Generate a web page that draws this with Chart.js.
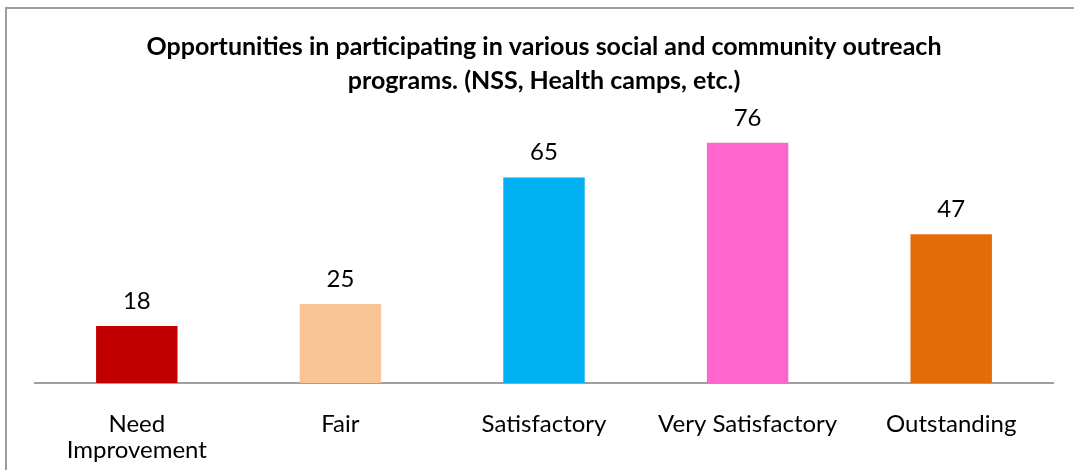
<!DOCTYPE html>
<html>
<head>
<meta charset="utf-8">
<script src="https://cdn.jsdelivr.net/npm/chart.js@4/dist/chart.umd.min.js"></script>
<style>
  html, body { margin: 0; padding: 0; background: #fff; overflow: hidden; }
  #wrap { width: 1074px; height: 470px; }
</style>
</head>
<body>
<div id="wrap"><canvas id="chart"></canvas></div>
<script>
const categories = [['Need', 'Improvement'], 'Fair', 'Satisfactory', 'Very Satisfactory', 'Outstanding'];
const responses = [18, 25, 65, 76, 47];
const barColors = ['#C00000', '#F8C496', '#00B0F0', '#FF66CC', '#E36C09'];
const titleLines = ['Opportunities in participating in various social and community outreach', 'programs. (NSS, Health camps, etc.)'];

const fontFamily = 'Lato, "Noto Sans", sans-serif';

// outer frame, like the one round the pasted chart
const framePlugin = {
  id: 'frame',
  beforeDraw(chart) {
    const ctx = chart.ctx;
    ctx.save();
    ctx.fillStyle = '#fff';
    ctx.fillRect(0, 0, chart.width, chart.height);
    ctx.strokeStyle = '#9c9c9c';
    ctx.lineWidth = 2;
    ctx.strokeRect(6, 8, chart.width + 50, chart.height + 50);
    ctx.restore();
  },
};

// value labels above each bar
const valueLabels = {
  id: 'valueLabels',
  afterDatasetsDraw(chart) {
    const ctx = chart.ctx;
    const meta = chart.getDatasetMeta(0);
    ctx.save();
    ctx.font = '24px ' + fontFamily;
    ctx.fillStyle = '#000';
    ctx.textAlign = 'center';
    ctx.textBaseline = 'alphabetic';
    meta.data.forEach((bar, i) => {
      ctx.fillText(String(responses[i]), bar.x, bar.y - 17);
    });
    ctx.restore();
  },
};

new Chart(document.getElementById('chart'), {
  type: 'bar',
  data: {
    labels: categories,
    datasets: [{
      data: responses,
      backgroundColor: barColors,
      borderWidth: 0,
      barPercentage: 0.4,
      categoryPercentage: 1,
    }],
  },
  options: {
    responsive: true,
    maintainAspectRatio: false,
    animation: false,
    layout: { padding: { left: 35, right: 21, top: 0, bottom: 0 } },
    plugins: {
      legend: { display: false },
      tooltip: { enabled: false },
      title: {
        display: true,
        text: titleLines,
        color: '#000',
        font: { family: fontFamily, size: 25, weight: 'bold', lineHeight: 1.36 },
        padding: { top: 30, bottom: 32 },
      },
    },
    scales: {
      x: {
        grid: { display: false },
        border: { display: true, color: '#a0a0a0', width: 2 },
        ticks: {
          color: '#000',
          padding: 20,
          maxRotation: 0,
          autoSkip: false,
          font: { family: fontFamily, size: 24, lineHeight: 1.08 },
        },
        afterFit(scale) { scale.height = 87; },
      },
      y: {
        display: false,
        min: 0,
        max: 80,
      },
    },
  },
  plugins: [framePlugin, valueLabels],
});
</script>
</body>
</html>
